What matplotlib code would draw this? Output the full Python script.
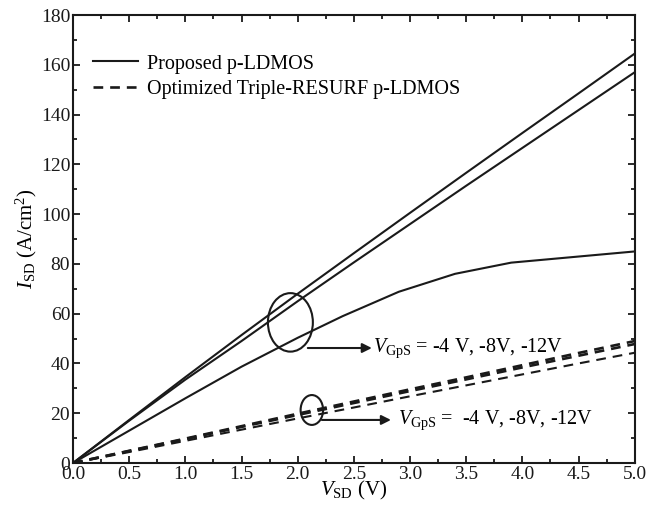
import numpy as np
import matplotlib
matplotlib.use('Agg')
import matplotlib.pyplot as plt
from matplotlib.patches import Ellipse
from matplotlib.ticker import MultipleLocator

plt.rcParams['font.family'] = ['Liberation Serif', 'DejaVu Serif']
plt.rcParams['mathtext.fontset'] = 'custom'
plt.rcParams['mathtext.rm'] = 'Liberation Serif'
plt.rcParams['mathtext.it'] = 'Liberation Serif:italic'
plt.rcParams['lines.scale_dashes'] = False

# drain-source voltage (V)
vsd = [0.0, 0.5, 1.0, 1.5, 2.0, 2.5, 3.0, 3.5, 4.0, 4.5, 5.0]
vsd_sat = [0.0, 0.5, 1.0, 1.5, 2.0, 2.4, 2.9, 3.4, 3.9, 5.0]

# proposed p-LDMOS, I_SD (A/cm^2) for VGpS = -12, -8, -4 V
prop_12 = [0, 17.3, 34.5, 51.4, 68.0, 84.3, 100.5, 116.6, 132.6, 148.5, 164.5]
prop_8 = [0, 17.0, 33.5, 49.0, 65.0, 80.6, 96.0, 111.4, 126.6, 141.8, 157.0]
prop_4 = [0, 13.0, 26.0, 38.7, 50.3, 59.0, 68.8, 76.0, 80.5, 85.0]

# optimized triple-RESURF p-LDMOS
tr_12 = [0, 4.9, 9.8, 14.8, 19.8, 24.7, 29.6, 34.4, 39.3, 44.2, 49.0]
tr_8 = [0, 4.8, 9.6, 14.5, 19.3, 24.1, 28.9, 33.6, 38.4, 43.1, 47.8]
tr_4 = [0, 4.4, 8.9, 13.4, 17.9, 22.3, 26.8, 31.2, 35.6, 40.0, 44.3]

label_solid = 'Proposed p-LDMOS'
label_dash = 'Optimized Triple-RESURF p-LDMOS'
vgs_text = r'$V_{\rm GpS}$ = -4 V, -8V, -12V'
vgs_text2 = r'$V_{\rm GpS}$ =  -4 V, -8V, -12V'

fig = plt.figure(figsize=(6.49, 5.12), dpi=100)
ax = fig.add_axes([0.1125, 0.0957, 0.8655, 0.875])

ink = '#1a1a1a'
dash = (0, (7, 5))
ax.plot(vsd, prop_12, color=ink, lw=1.5, label=label_solid)
ax.plot(vsd, prop_8, color=ink, lw=1.5)
ax.plot(vsd_sat, prop_4, color=ink, lw=1.5)
ax.plot(vsd, tr_12, color=ink, lw=1.9, linestyle=dash, label=label_dash)
ax.plot(vsd, tr_8, color=ink, lw=1.9, linestyle=dash)
ax.plot(vsd, tr_4, color=ink, lw=1.5, linestyle=dash)

# ellipses grouping the curves, with arrows to the gate-bias labels
ax.add_patch(Ellipse((1.935, 56.5), 0.40, 23.5, fill=False, lw=1.5, ec=ink))
ax.add_patch(Ellipse((2.126, 21.3), 0.20, 12.0, fill=False, lw=1.5, ec=ink))
arrow = dict(arrowstyle='-|>', color=ink, lw=1.5, mutation_scale=14,
             shrinkA=0, shrinkB=0)
ax.annotate('', xy=(2.66, 46.2), xytext=(2.09, 46.2), arrowprops=arrow)
ax.annotate('', xy=(2.83, 17.3), xytext=(2.215, 17.3), arrowprops=arrow)
ax.text(2.67, 46.2, vgs_text, fontsize=14.5, va='center', ha='left')
ax.text(2.89, 17.3, vgs_text2, fontsize=14.5, va='center', ha='left')

ax.set_xlim(0, 5)
ax.set_ylim(0, 180)
ax.xaxis.set_major_locator(MultipleLocator(0.5))
ax.xaxis.set_minor_locator(MultipleLocator(0.25))
ax.yaxis.set_major_locator(MultipleLocator(20))
ax.yaxis.set_minor_locator(MultipleLocator(10))
ax.xaxis.set_major_formatter(matplotlib.ticker.FormatStrFormatter('%.1f'))
ax.tick_params(which='both', direction='in', top=True, right=True,
               labelsize=14, width=1.3, colors=ink, pad=2)
ax.tick_params(which='major', length=5)
ax.tick_params(which='minor', length=3)
for sp in ax.spines.values():
    sp.set_linewidth(1.5)
    sp.set_color(ink)

ax.set_xlabel(r'$V_{\rm SD}$ (V)', fontsize=15, labelpad=-3)
ax.set_ylabel(r'$I_{\rm SD}$ (A/cm$^2$)', fontsize=15, labelpad=1)

ax.legend(loc='upper left', bbox_to_anchor=(0.035, 0.912), frameon=False,
          fontsize=14.5, handlelength=2.25, handletextpad=0.45,
          labelspacing=0.3, borderpad=0, borderaxespad=0)

fig.savefig('out.png', dpi=100)
